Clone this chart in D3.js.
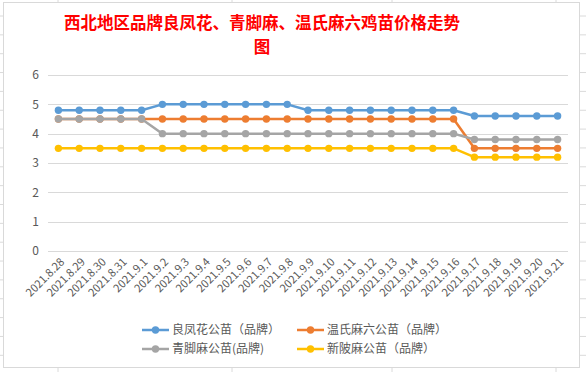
<!DOCTYPE html>
<html lang="zh">
<head>
<meta charset="UTF-8">
<title>价格走势</title>
<script src="https://d3js.org/d3.v7.min.js"></script>
<style>
  body { margin: 0; background: #fff; }
  text { font-family: "Noto Sans CJK SC", "Noto Sans", sans-serif; }
</style>
</head>
<body>
<script>
// 日期
var dates = ["2021.8.28", "2021.8.29", "2021.8.30", "2021.8.31", "2021.9.1", "2021.9.2", "2021.9.3",
  "2021.9.4", "2021.9.5", "2021.9.6", "2021.9.7", "2021.9.8", "2021.9.9", "2021.9.10", "2021.9.11",
  "2021.9.12", "2021.9.13", "2021.9.14", "2021.9.15", "2021.9.16", "2021.9.17", "2021.9.18",
  "2021.9.19", "2021.9.20", "2021.9.21"];

var seriesNames = ["良凤花公苗（品牌）", "温氏麻六公苗（品牌）", "青脚麻公苗(品牌)", "新陂麻公苗（品牌）"];

var lfh = [4.8, 4.8, 4.8, 4.8, 4.8, 5, 5, 5, 5, 5, 5, 5, 4.8, 4.8, 4.8, 4.8, 4.8, 4.8, 4.8, 4.8, 4.6, 4.6, 4.6, 4.6, 4.6];
var wsml = [4.5, 4.5, 4.5, 4.5, 4.5, 4.5, 4.5, 4.5, 4.5, 4.5, 4.5, 4.5, 4.5, 4.5, 4.5, 4.5, 4.5, 4.5, 4.5, 4.5, 3.5, 3.5, 3.5, 3.5, 3.5];
var qjm = [4.5, 4.5, 4.5, 4.5, 4.5, 4, 4, 4, 4, 4, 4, 4, 4, 4, 4, 4, 4, 4, 4, 4, 3.8, 3.8, 3.8, 3.8, 3.8];
var xbm = [3.5, 3.5, 3.5, 3.5, 3.5, 3.5, 3.5, 3.5, 3.5, 3.5, 3.5, 3.5, 3.5, 3.5, 3.5, 3.5, 3.5, 3.5, 3.5, 3.5, 3.2, 3.2, 3.2, 3.2, 3.2];

var yTicks = [0, 1, 2, 3, 4, 5, 6];

var colors = ["#5B9BD5", "#ED7D31", "#A5A5A5", "#FFC000"];
var allSeries = [lfh, wsml, qjm, xbm];

var width = 586, height = 372;
var svg = d3.select("body").append("svg").attr("width", width).attr("height", height);

// 表格背景线
var cols = [58, 232, 392, 556];
var rows = d3.range(16, 372, 18.85);
svg.selectAll(".gc").data(cols).enter().append("line")
    .attr("x1", function(d) { return d; }).attr("x2", function(d) { return d; })
    .attr("y1", 0).attr("y2", height)
    .attr("stroke", "#dadada");
svg.selectAll(".gr").data(rows).enter().append("line")
    .attr("x1", 0).attr("x2", width)
    .attr("y1", function(d) { return d; }).attr("y2", function(d) { return d; })
    .attr("stroke", "#dadada");

// 图表区域
svg.append("rect")
    .attr("x", 3.5).attr("y", 2.5).attr("width", 576).attr("height", 365)
    .attr("fill", "#fff").attr("stroke", "#d9d9d9");

// 标题
var title = svg.append("g")
    .attr("text-anchor", "middle")
    .attr("fill", "#FF0000")
    .attr("font-size", "16.5px")
    .attr("font-weight", "bold");
title.append("text").attr("x", 262).attr("y", 29).text("西北地区品牌良凤花、青脚麻、温氏麻六鸡苗价格走势");
title.append("text").attr("x", 262).attr("y", 53).text("图");

var x = d3.scaleBand().domain(dates).range([48, 568]);
var y = d3.scaleLinear().domain([0, 6]).range([251, 75]);

// y 网格
svg.selectAll(".grid").data(yTicks).enter().append("line")
    .attr("x1", 48).attr("x2", 568)
    .attr("y1", function(d) { return Math.round(y(d)) + 0.5; })
    .attr("y2", function(d) { return Math.round(y(d)) + 0.5; })
    .attr("stroke", "#d9d9d9");

svg.selectAll(".ylab").data(yTicks).enter().append("text")
    .attr("x", 39)
    .attr("y", function(d) { return y(d); })
    .attr("dy", "0.35em")
    .attr("text-anchor", "end")
    .attr("font-size", "12px")
    .attr("fill", "#595959")
    .text(function(d) { return d; });

// x 标签
svg.selectAll(".xlab").data(dates).enter().append("text")
    .attr("transform", function(d) { return "translate(" + (x(d) + x.bandwidth() / 2 + 4) + ",260) rotate(-45)"; })
    .attr("dy", "0.35em")
    .attr("text-anchor", "end")
    .attr("font-size", "11px")
    .attr("fill", "#595959")
    .text(function(d) { return d; });

var line = d3.line()
    .x(function(d, i) { return x(dates[i]) + x.bandwidth() / 2; })
    .y(function(d) { return y(d); });

allSeries.forEach(function(s, k) {
    svg.append("path")
        .attr("d", line(s))
        .attr("fill", "none")
        .attr("stroke", colors[k])
        .attr("stroke-width", 2.5)
        .attr("stroke-linejoin", "round");
    svg.selectAll(".pt" + k).data(s).enter().append("circle")
        .attr("cx", function(d, i) { return x(dates[i]) + x.bandwidth() / 2; })
        .attr("cy", function(d) { return y(d); })
        .attr("r", 3.7)
        .attr("fill", colors[k]);
});

// 图例
var legendPos = [[142, 330], [297, 330], [142, 349], [297, 349]];
seriesNames.forEach(function(name, k) {
    var p = legendPos[k];
    var g = svg.append("g").attr("transform", "translate(" + p[0] + "," + p[1] + ")");
    g.append("line").attr("x1", 0).attr("x2", 27).attr("y1", 0).attr("y2", 0)
        .attr("stroke", colors[k]).attr("stroke-width", 2.5);
    g.append("circle").attr("cx", 13.5).attr("cy", 0).attr("r", 3.7).attr("fill", colors[k]);
    g.append("text").attr("x", 30).attr("y", 0).attr("dy", "0.35em")
        .attr("font-size", "12px").attr("fill", "#595959").text(name);
});
</script>
</body>
</html>
